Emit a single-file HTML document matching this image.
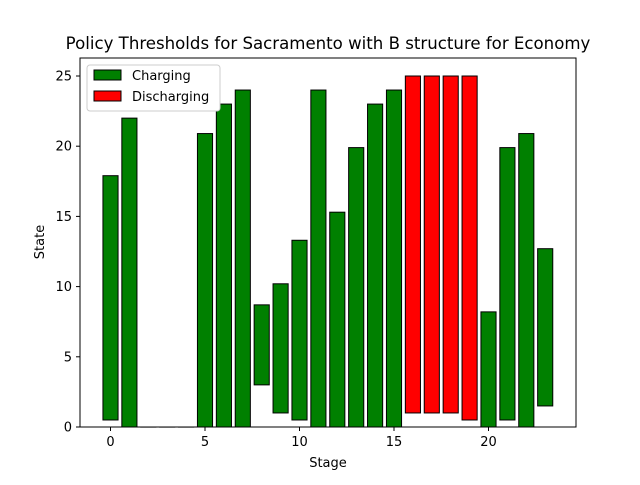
<!DOCTYPE html>
<html><head><meta charset="utf-8"><style>
body{margin:0;background:#fff}
svg text{font-family:"DejaVu Sans","Liberation Sans",sans-serif;fill:#000}
</style></head><body>
<svg id="c" width="640" height="480" xmlns="http://www.w3.org/2000/svg">
<rect width="640" height="480" fill="#fff"/>
<text x="328" y="49" font-size="16.6" text-anchor="middle">Policy Thresholds for Sacramento with B structure for Economy</text>
<g id="bars"></g>
<rect x="80" y="58" width="496" height="369" fill="none" stroke="#000" stroke-width="1"/>
<g id="axes"></g>
<text x="328" y="467" font-size="13" text-anchor="middle">Stage</text>
<text x="44" y="242" font-size="13" text-anchor="middle" transform="rotate(-90 44 242)">State</text>
<g>
<rect x="87" y="65" width="133" height="46" rx="3" fill="#fff" stroke="#ccc"/>
<rect x="94" y="70" width="27" height="10" fill="#008000" stroke="#000"/>
<text x="132" y="80" font-size="13">Charging</text>
<rect x="94" y="91" width="27" height="10" fill="#ff0000" stroke="#000"/>
<text x="132" y="101" font-size="13">Discharging</text>
</g>
</svg>
<script>
const stages=[0,1,2,3,4,5,6,7,8,9,10,11,12,13,14,15,16,17,18,19,20,21,22,23];
const bottoms=[0.5,0,0,0,0,0,0,0,3,1,0.5,0,0,0,0,0,1,1,1,0.5,0,0.5,0,1.5];
const tops=[17.9,22,0,0,0,20.9,23,24,8.7,10.2,13.3,24,15.3,19.9,23,24,25,25,25,25,8.2,19.9,20.9,12.7];
const kinds=["c","c","n","c","c","c","c","c","c","c","c","c","c","c","c","c","d","d","d","d","c","c","c","c"];
const xTicks=[0,5,10,15,20];
const yTicks=[0,5,10,15,20,25];
const NS="http://www.w3.org/2000/svg";
const X=v=>110.5+v*18.9;
const Y=v=>427-v*14.04;
const bw=0.8*18.9;
const g=document.getElementById('bars');
stages.forEach((s,i)=>{
  const r=document.createElementNS(NS,'rect');
  const h=Y(bottoms[i])-Y(tops[i]);
  r.setAttribute('x',X(s)-bw/2);
  r.setAttribute('y',Y(tops[i]));
  r.setAttribute('width',bw);
  r.setAttribute('height',Math.max(h,0));
  if(h<=0){r.setAttribute('fill','none');r.setAttribute('stroke','#ccc');r.setAttribute('height',0.5);}
  else{r.setAttribute('fill',kinds[i]==='d'?'#ff0000':'#008000');r.setAttribute('stroke','#000');}
  
  
  g.appendChild(r);
});
const a=document.getElementById('axes');
xTicks.forEach(t=>{
  const l=document.createElementNS(NS,'line');
  l.setAttribute('x1',X(t));l.setAttribute('x2',X(t));l.setAttribute('y1',427);l.setAttribute('y2',431);l.setAttribute('stroke','#000');
  
  
  a.appendChild(l);
  const tx=document.createElementNS(NS,'text');
  tx.setAttribute('x',X(t));tx.setAttribute('y',446);tx.setAttribute('font-size','13');tx.setAttribute('text-anchor','middle');
  tx.textContent=t;
  
  
  a.appendChild(tx);
});
yTicks.forEach(t=>{
  const l=document.createElementNS(NS,'line');
  l.setAttribute('x1',76);l.setAttribute('x2',80);l.setAttribute('y1',Y(t));l.setAttribute('y2',Y(t));l.setAttribute('stroke','#000');
  
  
  a.appendChild(l);
  const tx=document.createElementNS(NS,'text');
  tx.setAttribute('x',72);tx.setAttribute('y',Y(t)+4.5);tx.setAttribute('font-size','13');tx.setAttribute('text-anchor','end');
  tx.textContent=t;
  
  
  a.appendChild(tx);
});
</script>
</body></html>
